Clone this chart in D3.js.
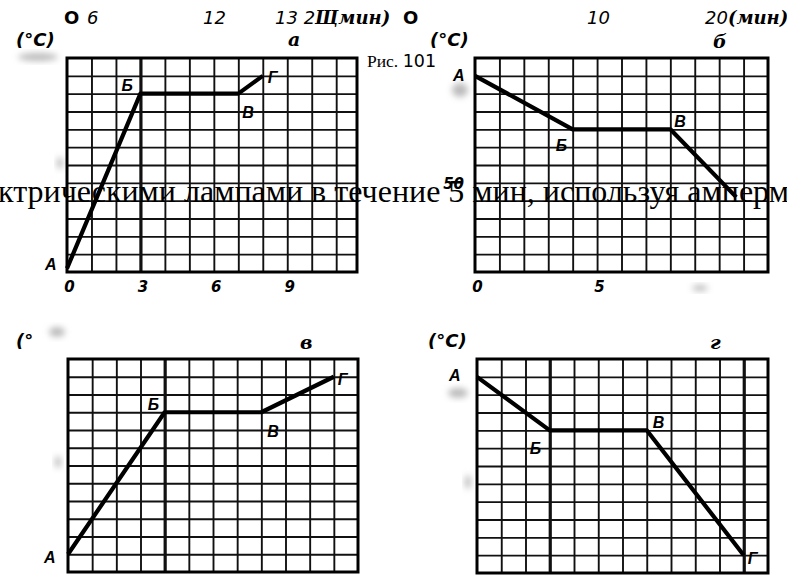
<!DOCTYPE html>
<html lang="ru">
<head>
<meta charset="UTF-8">
<title>Рис. 101</title>
<script src="https://d3js.org/d3.v7.min.js"></script>
<style>
  body { margin: 0; background: #fff; }
  .grid line { stroke: #111; stroke-width: 1.9; }
  .grid path { display: none; }
  .frame { fill: none; stroke: #000; stroke-width: 3; }
  .curve { fill: none; stroke: #000; stroke-width: 4.2; stroke-linejoin: round; }
  .pt { font-family: "Liberation Sans", Arial, sans-serif; font-weight: bold; font-style: italic; font-size: 16px; }
  .tick-lbl { font-family: "DejaVu Sans", sans-serif; font-weight: bold; font-style: italic; font-size: 15px; }
  .unit { font-family: "DejaVu Sans", sans-serif; font-weight: bold; font-style: italic; font-size: 18px; }
  .letter { font-family: "DejaVu Serif", serif; font-weight: bold; font-style: italic; font-size: 19px; }
  .top { font-family: "DejaVu Sans", sans-serif; font-style: italic; font-size: 18px; }
  .body { font-family: "Liberation Serif", "Times New Roman", serif; font-size: 32px; }
</style>
</head>
<body>
<svg id="fig" width="787" height="576"></svg>
<script>
// values (time in min, temperature in °C, 10 °C per cell)
const pointNames = ["А", "Б", "В", "Г"];
const timeA = [0, 3, 7, 8];
const tempA = [2, 100, 100, 110];
const timeB = [0, 4, 8, 10.7];
const tempB = [110, 80, 80, 42];
const timeV = [0, 4, 8, 11];
const tempV = [10, 90, 90, 110];
const timeG = [0, 3, 7, 11];
const tempG = [110, 80, 80, 10];
const ticksA = [0, 3, 6, 9];
const ticksB = [0, 5];
const tempTicksB = [50];

const svg = d3.select("#fig");
svg.append("rect").attr("width", 787).attr("height", 576).attr("fill", "#fff");

// soft grey smudges of the scan
const blur = svg.append("defs").append("filter").attr("id", "blur")
  .attr("x", "-50%").attr("y", "-50%").attr("width", "200%").attr("height", "200%");
blur.append("feGaussianBlur").attr("stdDeviation", 3);
const smudges = [[38, 57, 20, 4], [60, 163, 3, 6], [460, 90, 8, 7], [57, 332, 8, 5],
                 [58, 462, 3, 6], [458, 393, 10, 5], [468, 482, 3, 7], [700, 288, 8, 3]];
svg.append("g").selectAll("ellipse").data(smudges).join("ellipse")
  .attr("cx", d => d[0]).attr("cy", d => d[1]).attr("rx", d => d[2]).attr("ry", d => d[3])
  .attr("fill", "#bbb").attr("filter", "url(#blur)");

const panels = [
  { name: "а", time: timeA, temp: tempA, names: pointNames, ticks: ticksA, tempTicks: [],
    left: 67, right: 357, top: 58, bottom: 272, xMax: 11.85, heavy: [3],
    offs: [[-22, -4], [-19, -8], [4, 19], [5, 2]] },
  { name: "б", time: timeB, temp: tempB, names: pointNames.slice(0, 3), ticks: ticksB, tempTicks: tempTicksB,
    left: 475, right: 768, top: 58, bottom: 272, xMax: 12, heavy: [],
    offs: [[-22, 0], [-17, 16], [4, -8]] },
  { name: "в", time: timeV, temp: tempV, names: pointNames, ticks: [], tempTicks: [],
    left: 68, right: 358, top: 359, bottom: 572, xMax: 12, heavy: [4],
    offs: [[-24, 3], [-17, -8], [6, 19], [4, 3]] },
  { name: "г", time: timeG, temp: tempG, names: pointNames, ticks: [], tempTicks: [],
    left: 477, right: 768, top: 359, bottom: 573, xMax: 12, heavy: [3, 11],
    offs: [[-28, -1], [-20, 18], [6, -8], [4, 3]] }
];

panels.forEach(p => {
  const x = d3.scaleLinear().domain([0, p.xMax]).range([p.left, p.right]);
  const y = d3.scaleLinear().domain([0, 120]).range([p.bottom, p.top]);
  const h = p.bottom - p.top, w = p.right - p.left;
  const g = svg.append("g");

  g.append("g").attr("class", "grid")
    .attr("transform", `translate(0,${p.bottom})`)
    .call(d3.axisBottom(x).tickValues(d3.range(1, Math.ceil(p.xMax))).tickSize(-h).tickFormat(""))
    .selectAll(".tick line")
    .style("stroke-width", d => p.heavy.includes(d) ? 3.2 : null);

  g.append("g").attr("class", "grid")
    .attr("transform", `translate(${p.left},0)`)
    .call(d3.axisLeft(y).tickValues(d3.range(10, 120, 10)).tickSize(-w).tickFormat(""));

  g.append("rect").attr("class", "frame")
    .attr("x", p.left).attr("y", p.top).attr("width", w).attr("height", h);

  // x tick labels
  const xa = g.append("g")
    .attr("transform", `translate(2,${p.bottom})`)
    .call(d3.axisBottom(x).tickValues(p.ticks).tickSize(0).tickPadding(9).tickFormat(d3.format("d")));
  xa.select(".domain").remove();
  xa.attr("font-size", null).attr("font-family", null);
  xa.selectAll("text").attr("class", "tick-lbl").attr("fill", "#000");

  // y tick labels
  const ya = g.append("g")
    .attr("transform", `translate(${p.left - 9},1)`)
    .call(d3.axisLeft(y).tickValues(p.tempTicks).tickSize(0).tickPadding(2).tickFormat(d3.format("d")));
  ya.select(".domain").remove();
  ya.attr("font-size", null).attr("font-family", null);
  ya.selectAll("text").attr("class", "tick-lbl").attr("fill", "#000");

  const pts = p.time.map((t, i) => [t, p.temp[i]]);
  g.append("path").attr("class", "curve")
    .attr("d", d3.line().x(d => x(d[0])).y(d => y(d[1]))(pts));

  g.selectAll(".pt").data(p.names).join("text")
    .attr("class", "pt")
    .attr("x", (d, i) => x(p.time[i]) + p.offs[i][0])
    .attr("y", (d, i) => y(p.temp[i]) + p.offs[i][1])
    .attr("dy", "0.35em")
    .text(d => d);
});

// titles and units
const unit = [[16, 46, "(°C)"], [430, 46, "(°C)"], [16, 347, "(°"], [428, 347, "(°C)"]];
svg.append("g").selectAll("text").data(unit).join("text").attr("class", "unit")
  .attr("x", d => d[0]).attr("y", d => d[1]).text(d => d[2]);

const letters = [[288, 46, "а"], [713, 48, "б"], [300, 349, "в"], [710, 349, "г"]];
svg.append("g").selectAll("text").data(letters).join("text").attr("class", "letter")
  .attr("x", d => d[0]).attr("y", d => d[1]).text(d => d[2]);

// the garbled line of the scan above the panels
const topLine = svg.append("text").attr("class", "top").attr("y", 24);
topLine.append("tspan").attr("x", 64).style("font-weight", "bold").style("font-style", "normal").text("O");
topLine.append("tspan").attr("x", 87).text("6");
topLine.append("tspan").attr("x", 203).text("12");
topLine.append("tspan").attr("x", 275).text("13 2");
topLine.append("tspan").attr("font-family", "DejaVu Serif").style("font-weight", "bold").text("Щмин)");
topLine.append("tspan").attr("x", 403).style("font-weight", "bold").style("font-style", "normal").text("O");
topLine.append("tspan").attr("x", 587).text("10");
topLine.append("tspan").attr("x", 705).text("20");
topLine.append("tspan").attr("font-family", "DejaVu Serif").style("font-weight", "bold").text("(мин)");

const ris = svg.append("text").attr("x", 367).attr("y", 67).style("font-size", "17.5px");
ris.append("tspan").attr("font-family", "Liberation Serif").text("Рис. ");
ris.append("tspan").attr("font-family", "DejaVu Sans").text("101");

svg.append("text").attr("class", "body").attr("x", -2).attr("y", 202)
  .text("ктрическими лампами в течение 5 мин, используя амперме");
</script>
</body>
</html>
